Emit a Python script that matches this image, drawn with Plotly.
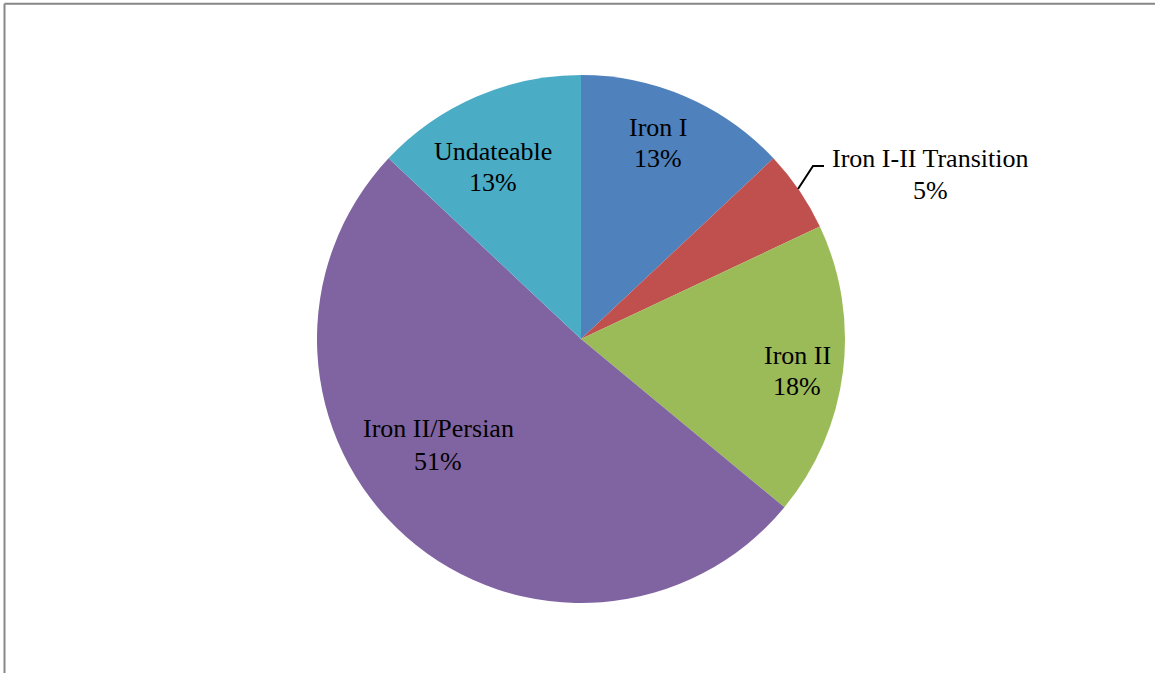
import plotly.graph_objects as go

# Share of finds by period
periods = ["Iron I", "Iron I-II Transition", "Iron II", "Iron II/Persian", "Undateable"]
shares = [13, 5, 18, 51, 13]
colors = ["#4F81BD", "#C0504D", "#9BBB59", "#8064A2", "#4BACC6"]

W, H = 1155, 673
FONT = "Liberation Serif, Times New Roman, serif"

# Pie placement in pixels (centre and radius)
cx, cy, r = 581, 339, 264

fig = go.Figure(
    go.Pie(
        labels=periods,
        values=shares,
        sort=False,
        direction="clockwise",
        rotation=0,
        marker=dict(colors=colors, line=dict(width=0)),
        textinfo="none",
        hoverinfo="label+percent",
        showlegend=False,
        domain=dict(x=[(cx - r) / W, (cx + r) / W], y=[(H - cy - r) / H, (H - cy + r) / H]),
    )
)

# Label anchor points (pixel centre of the name line, pixel centre of the percent line)
label_px = [
    (658, 127, 158),
    (930, 158, 190),
    (797, 355, 386),
    (438, 429, 461),
    (493, 151, 183),
]

annotations = []
for name, share, (lx, ly1, ly2) in zip(periods, shares, label_px):
    for text, ly in ((name, ly1), (f"{share}%", ly2)):
        annotations.append(
            dict(
                x=lx / W, y=1 - ly / H, xref="paper", yref="paper",
                text=text, showarrow=False, xanchor="center", yanchor="middle",
                font=dict(family=FONT, size=26, color="#000000"),
            )
        )

def px(x, y):
    return x / W, 1 - y / H

shapes = []
# Leader line for the small transition slice
pts = [px(798, 189), px(813, 166), px(824, 166)]
path = "M {} {} L {} {} L {} {}".format(*[v for p in pts for v in p])
shapes.append(dict(type="path", path=path, xref="paper", yref="paper",
                   line=dict(color="#000000", width=2)))

# Chart frame
bx0, by0 = px(4.5, 3.8)
shapes.append(dict(type="line", xref="paper", yref="paper", x0=bx0, x1=bx0, y0=by0, y1=-0.01,
                   line=dict(color="#878787", width=2)))
shapes.append(dict(type="line", xref="paper", yref="paper", x0=bx0, x1=1.01, y0=by0, y1=by0,
                   line=dict(color="#878787", width=2)))

fig.update_layout(
    width=W, height=H,
    margin=dict(l=0, r=0, t=0, b=0),
    paper_bgcolor="#FFFFFF",
    plot_bgcolor="#FFFFFF",
    annotations=annotations,
    shapes=shapes,
)

fig.write_html("out.html")
